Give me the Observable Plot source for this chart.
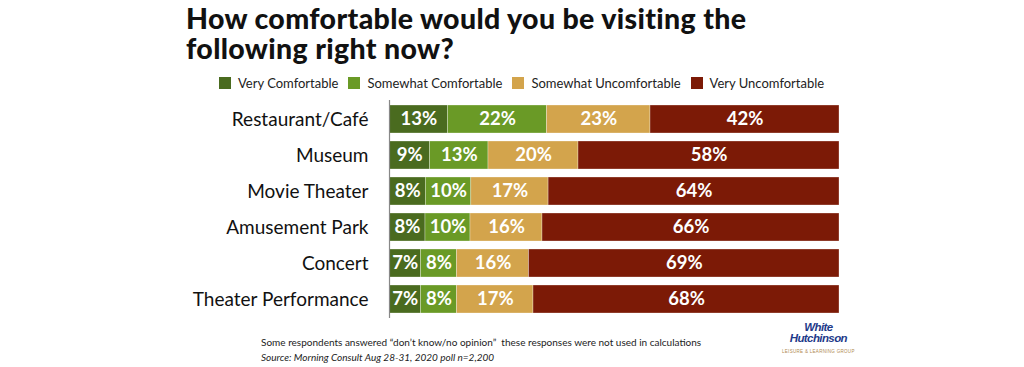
<!DOCTYPE html>
<html>
<head>
<meta charset="utf-8">
<script src="https://cdn.jsdelivr.net/npm/d3@7"></script>
<script src="https://cdn.jsdelivr.net/npm/@observablehq/plot@0.6"></script>
<style>
  html, body { margin: 0; padding: 0; background: #fff; }
  #wrap { position: relative; width: 1024px; height: 367px; overflow: hidden; font-family: Lato, "Noto Sans", sans-serif; }
  .tl { position: absolute; left: 186px; font-size: 28.5px; font-weight: 900; line-height: 29px; color: #111; letter-spacing: 0.35px; white-space: nowrap; }
  #legend { position: absolute; left: 219px; top: 75px; display: flex; font-size: 13px; color: #222; align-items: center; }
  .item { display: flex; align-items: center; margin-right: 10px; }
  .sw { width: 12px; height: 12px; margin-right: 7px; }
  #chart { position: absolute; left: 0; top: 100px; }
  #note { position: absolute; left: 261px; top: 335px; font-size: 10px; color: #222; line-height: 15px; }
  #logo { position: absolute; left: 782px; top: 322px; color: #1e3a8a; font-style: italic; font-weight: 900; font-size: 11.5px; line-height: 11px; text-align: center; font-family: "Liberation Sans", sans-serif; letter-spacing: -0.6px; }
  #logo small { display: block; font-size: 4.5px; color: #b08a50; font-weight: 400; font-style: normal; letter-spacing: 0.3px; line-height: 6px; margin-top: 5px; }
</style>
</head>
<body>
<div id="wrap">
  <div class="tl" style="top:4px">How comfortable would you be visiting the</div>
  <div class="tl" style="top:34px">following right now?</div>
  <div id="legend"></div>
  <div id="chart"></div>
  <div id="note">Some respondents answered “don’t know/no opinion”&nbsp; these responses were not used in calculations<br><i>Source: Morning Consult Aug 28-31, 2020 poll n=2,200</i></div>
  <div id="logo">White<br>Hutchinson<small>LEISURE &amp; LEARNING GROUP</small></div>
</div>
<script>
const places = ["Restaurant/Café", "Museum", "Movie Theater", "Amusement Park", "Concert", "Theater Performance"];
const categories = ["Very Comfortable", "Somewhat Comfortable", "Somewhat Uncomfortable", "Very Uncomfortable"];
const colors = ["#4a6b1f", "#6a9a26", "#d3a44c", "#7c1a06"];
const veryComfortable = [13, 9, 8, 8, 7, 7];
const somewhatComfortable = [22, 13, 10, 10, 8, 8];
const somewhatUncomfortable = [23, 20, 17, 16, 16, 17];
const veryUncomfortable = [42, 58, 64, 66, 69, 68];

const series = [veryComfortable, somewhatComfortable, somewhatUncomfortable, veryUncomfortable];
const data = [];
places.forEach((p, i) => {
  categories.forEach((c, j) => {
    data.push({place: p, cat: c, order: j, value: series[j][i]});
  });
});

const legend = document.getElementById("legend");
categories.forEach((c, j) => {
  const it = document.createElement("div");
  it.className = "item";
  it.innerHTML = `<span class="sw" style="background:${colors[j]}"></span><span>${c}</span>`;
  legend.appendChild(it);
});

const chart = Plot.plot({
  width: 1024,
  height: 218,
  marginLeft: 389,
  marginRight: 185,
  marginTop: 0,
  marginBottom: 0,
  x: {domain: [0, 1], axis: null},
  y: {domain: places, paddingInner: 0.23, paddingOuter: 0.118, label: null},
  color: {domain: categories, range: colors},
  style: {fontFamily: "Lato, 'Noto Sans', sans-serif"},
  marks: [
    Plot.barX(data, Plot.stackX({x: "value", y: "place", fill: "cat", order: categories, offset: "normalize", stroke: "#ffffff", strokeWidth: 0.6, strokeOpacity: 0.5})),
    Plot.text(data, Plot.stackX({x: "value", y: "place", z: "cat", order: categories, offset: "normalize", text: d => d.value + "%", fill: "white", fontSize: 18.5, fontWeight: "bold"})),
    Plot.ruleX([0], {stroke: "#888", strokeWidth: 1.2}),
    Plot.axisY({tickSize: 0, tickPadding: 21, fontSize: 19, fill: "#111"})
  ]
});
document.getElementById("chart").appendChild(chart);
</script>
</body>
</html>
